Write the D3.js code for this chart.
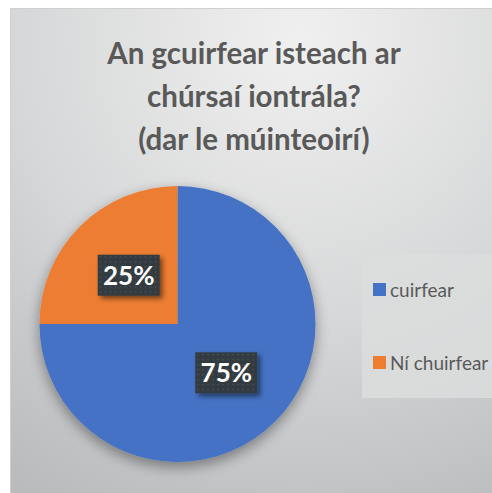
<!DOCTYPE html>
<html>
<head>
<meta charset="utf-8">
<script src="https://cdn.jsdelivr.net/npm/d3@7"></script>
<style>
  html, body { margin: 0; padding: 0; background: #fff; }
  #chart { width: 492px; height: 493px; }
  text { font-family: Lato, "Open Sans", "Noto Sans", sans-serif; }
</style>
</head>
<body>
<div id="chart"></div>
<script>
// Pie: teachers' view on whether they'd apply to entry courses
const titleLines = ['An gcuirfear isteach ar', 'chúrsaí iontrála?', '(dar le múinteoirí)'];
const categories = ['cuirfear', 'Ní chuirfear'];
const values = [75, 25];
const colors = ['#4472C4', '#ED7D31'];

const W = 492, H = 493;
const svg = d3.select('#chart').append('svg')
  .attr('width', W).attr('height', H);

const defs = svg.append('defs');

// background gradient, light at top, darker toward bottom
const bg = defs.append('radialGradient').attr('id', 'bg')
  .attr('gradientUnits', 'userSpaceOnUse')
  .attr('cx', 300).attr('cy', 40).attr('r', 520);
bg.append('stop').attr('offset', '0%').attr('stop-color', '#f0f0f0');
bg.append('stop').attr('offset', '55%').attr('stop-color', '#d6d7d8');
bg.append('stop').attr('offset', '100%').attr('stop-color', '#b9bbbd');

const sh = defs.append('filter').attr('id', 'shadow')
  .attr('x', '-20%').attr('y', '-20%').attr('width', '140%').attr('height', '140%');
sh.append('feGaussianBlur').attr('in', 'SourceAlpha').attr('stdDeviation', 7);
sh.append('feOffset').attr('dx', 0).attr('dy', 5).attr('result', 'b');
sh.append('feComponentTransfer').append('feFuncA').attr('type', 'linear').attr('slope', 0.4);
const m = sh.append('feMerge');
m.append('feMergeNode');
m.append('feMergeNode').attr('in', 'SourceGraphic');

const lsh = defs.append('filter').attr('id', 'lshadow')
  .attr('x', '-30%').attr('y', '-30%').attr('width', '170%').attr('height', '170%');
lsh.append('feGaussianBlur').attr('in', 'SourceAlpha').attr('stdDeviation', 2.5);
lsh.append('feOffset').attr('dx', 3).attr('dy', 3);
lsh.append('feComponentTransfer').append('feFuncA').attr('type', 'linear').attr('slope', 0.5);
const m2 = lsh.append('feMerge');
m2.append('feMergeNode');
m2.append('feMergeNode').attr('in', 'SourceGraphic');

const pat = defs.append('pattern').attr('id', 'dots')
  .attr('width', 5).attr('height', 5).attr('patternUnits', 'userSpaceOnUse');
pat.append('rect').attr('width', 5).attr('height', 5).attr('fill', '#333a40');
pat.append('rect').attr('x', 1).attr('y', 1).attr('width', 1.5).attr('height', 1.5).attr('fill', '#4a5258');

// chart area
svg.append('rect')
  .attr('x', 10.5).attr('y', 8.5).attr('width', W - 10).attr('height', H - 8)
  .attr('fill', 'url(#bg)').attr('stroke', '#d0d0d0');

// title
svg.append('g').selectAll('text')
  .data(titleLines)
  .join('text')
  .attr('x', 254)
  .attr('y', (d, i) => 64 + i * 43)
  .attr('text-anchor', 'middle')
  .attr('font-size', 29.5)
  .attr('font-weight', 'bold')
  .attr('fill', '#595959')
  .text(d => d);

// pie
const cx = 177.5, cy = 324, R = 138;
const pie = d3.pie().sort(null)(values);
const arc = d3.arc().innerRadius(0).outerRadius(R);
const g = svg.append('g').attr('transform', `translate(${cx},${cy})`);
g.append('g').attr('filter', 'url(#shadow)')
  .selectAll('path')
  .data(pie)
  .join('path')
  .attr('d', arc)
  .attr('fill', (d, i) => colors[i]);

// data labels
const labelArc = d3.arc().innerRadius(R * 0.5).outerRadius(R * 0.5);
const lab = g.selectAll('g.lab')
  .data(pie)
  .join('g')
  .attr('class', 'lab')
  .attr('transform', d => {
    const [x, y] = labelArc.centroid(d);
    return `translate(${x},${y})`;
  });
lab.append('rect')
  .attr('x', -31).attr('y', -20.5).attr('width', 62).attr('height', 41)
  .attr('fill', 'url(#dots)')
  .attr('filter', 'url(#lshadow)');
lab.append('text')
  .attr('text-anchor', 'middle')
  .attr('dy', '0.36em')
  .attr('font-size', 26)
  .attr('font-weight', 'bold')
  .attr('fill', '#fff')
  .text(d => d.data + '%');

// legend
svg.append('rect')
  .attr('x', 362).attr('y', 254).attr('width', 130).attr('height', 144)
  .attr('fill', '#dcdddd').attr('opacity', 0.85);
const leg = svg.append('g').selectAll('g')
  .data(categories)
  .join('g')
  .attr('transform', (d, i) => `translate(373,${283 + i * 73})`);
leg.append('rect').attr('width', 13).attr('height', 13)
  .attr('fill', (d, i) => colors[i]);
leg.append('text')
  .attr('x', 17).attr('y', 13.5)
  .attr('font-size', 19)
  .attr('fill', '#595959')
  .text(d => d);
</script>
</body>
</html>
